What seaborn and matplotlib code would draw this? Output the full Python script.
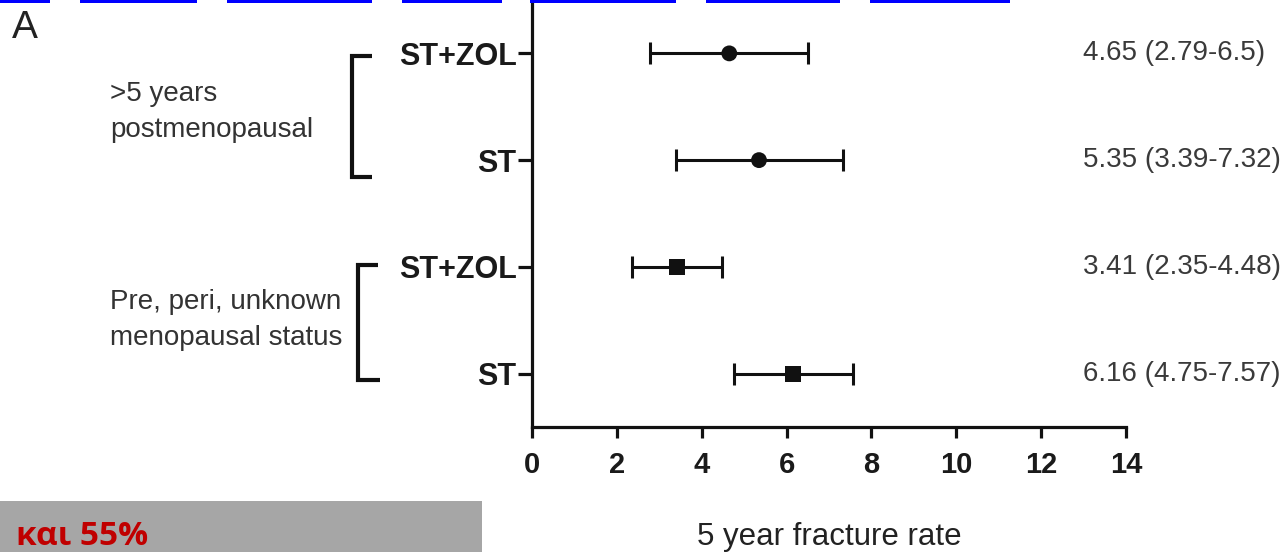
import numpy as np
import pandas as pd
import matplotlib
matplotlib.use("Agg")
import matplotlib.pyplot as plt
import seaborn as sns
from matplotlib.patches import Rectangle
from matplotlib.lines import Line2D
import matplotlib.transforms as mtransforms

# ---- data ----
groups = [">5 years\npostmenopausal", "Pre, peri, unknown\nmenopausal status"]
treatments = ["ST+ZOL", "ST", "ST+ZOL", "ST"]
rate = [4.65, 5.35, 3.41, 6.16]
ci_low = [2.79, 3.39, 2.35, 4.75]
ci_high = [6.5, 7.32, 4.48, 7.57]
marker_kind = ["circle", "circle", "square", "square"]
ci_text = ["4.65 (2.79-6.5)", "5.35 (3.39-7.32)", "3.41 (2.35-4.48)", "6.16 (4.75-7.57)"]
x_ticks = [0, 2, 4, 6, 8, 10, 12, 14]
x_label = "5 year fracture rate"
panel_letter = "A"
overlay_text = "και 55%"

sns.set_theme(style="ticks")
plt.rcParams["font.family"] = ["Liberation Sans", "DejaVu Sans"]

W, H = 1287, 552
fig = plt.figure(figsize=(W / 100, H / 100), dpi=100, facecolor="white")
ax = fig.add_axes([532 / W, 1 - 427 / H, (1126 - 532) / W, 427 / H])

n = len(rate)
pos = [n - i for i in range(n)]
df = pd.DataFrame({"rate": rate, "pos": pos, "low": ci_low, "high": ci_high,
                   "kind": marker_kind, "trt": treatments})

ax.errorbar(df["rate"], df["pos"],
            xerr=[df["rate"] - df["low"], df["high"] - df["rate"]],
            fmt="none", ecolor="#111111", elinewidth=2.2, capsize=8, capthick=2.2, zorder=2)
sns.scatterplot(data=df, x="rate", y="pos", style="kind",
                markers={"circle": "o", "square": "s"}, color="#111111",
                s=130, edgecolor="#111111", linewidth=0, legend=False, ax=ax, zorder=3)

ax.set_xlim(0, 14)
ax.set_ylim(0.5, 4.5)
ax.set_xticks(x_ticks)
ax.set_xticklabels([str(t) for t in x_ticks])
ax.set_yticks(pos)
ax.set_yticklabels(treatments)
for s in ["top", "right"]:
    ax.spines[s].set_visible(False)
for s in ["left", "bottom"]:
    ax.spines[s].set_linewidth(2.3)
    ax.spines[s].set_color("#111111")
ax.tick_params(axis="y", direction="out", length=10, width=2.3, color="#111111", pad=1)
ax.tick_params(axis="x", direction="out", length=8, width=2.3, color="#111111", pad=9)
for lab in ax.get_yticklabels():
    lab.set_fontsize(22)
    lab.set_fontweight("bold")
    lab.set_color("#1a1a1a")
for lab in ax.get_xticklabels():
    lab.set_fontsize(21)
    lab.set_fontweight("bold")
    lab.set_color("#1a1a1a")
ax.set_ylabel("")
ax.set_xlabel(x_label, fontsize=22.5, color="#222222", labelpad=31)

# CI annotations on the right
for i in range(n):
    ax.text(12.98, pos[i], ci_text[i], ha="left", va="center", fontsize=20,
            color="#3a3a3a", clip_on=False)

# group labels and brackets (x in figure fraction, y in data)
trans = mtransforms.blended_transform_factory(fig.transFigure, ax.transData)
grp_y = [3.45, 1.5]
for g, label in enumerate(groups):
    ax.text(110 / W, grp_y[g], label, transform=trans, ha="left", va="center",
            fontsize=20, color="#333333", linespacing=1.5)
brackets = [(352, 372, 372, 3.975, 2.842), (358, 378, 380, 2.018, 0.94)]
for xv, xt, xb, yt, yb in brackets:
    ln = Line2D([xt / W, xv / W, xv / W, xb / W], [yt, yt, yb, yb], transform=trans,
                color="#111111", lw=3.0, solid_joinstyle="miter", solid_capstyle="butt")
    ln.set_clip_on(False)
    fig.add_artist(ln)

# panel letter
fig.text(12 / W, 1 - 38 / H, panel_letter, ha="left", va="baseline", fontsize=28,
         color="#222222")

# top blue link bars
for x0, x1 in [(0, 50), (80, 197), (227, 372), (402, 502), (530, 676), (706, 840), (870, 1010)]:
    fig.add_artist(Rectangle((x0 / W, 1 - 2.5 / H), (x1 - x0) / W, 2.5 / H,
                             transform=fig.transFigure, color="#0000ff", lw=0))

# gray overlay box with red text
fig.add_artist(Rectangle((0, 0), 482 / W, (H - 501) / H, transform=fig.transFigure,
                         color="#a6a6a6", lw=0))
fig.text(148 / W, 1 - 545 / H, overlay_text, ha="right", va="baseline", fontsize=24,
         fontweight="bold", color="#c00000", family=["Open Sans", "DejaVu Sans"])

fig.savefig("out.png", dpi=100, facecolor="white")
